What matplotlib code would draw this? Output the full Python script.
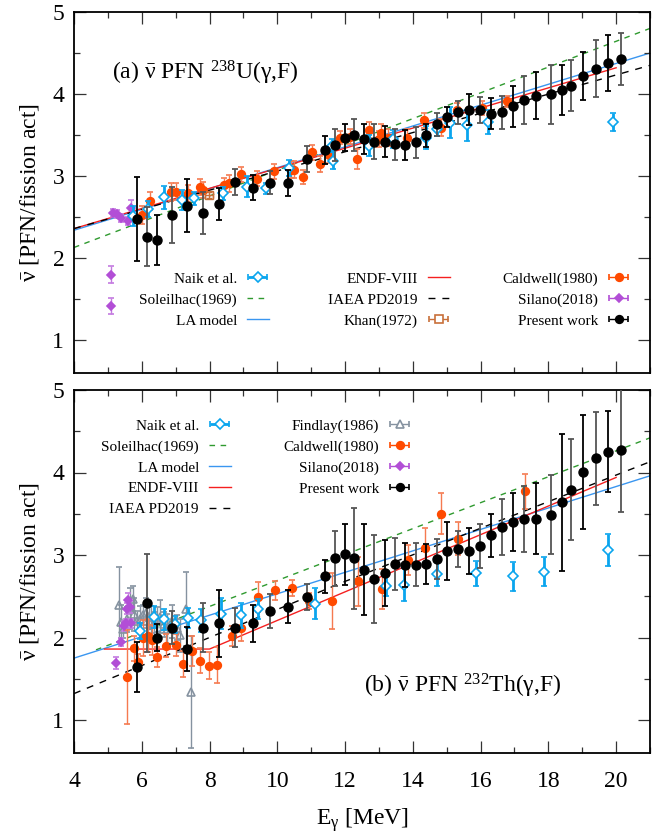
import numpy as np
import matplotlib
matplotlib.use("Agg")
import matplotlib.pyplot as plt
from matplotlib.legend import Legend
from matplotlib.legend_handler import HandlerErrorbar
from matplotlib.container import ErrorbarContainer
from matplotlib.ticker import MultipleLocator

plt.rcParams['font.family'] = ['Liberation Serif', 'DejaVu Serif']
plt.rcParams['mathtext.fontset'] = 'custom'
plt.rcParams['mathtext.rm'] = 'Liberation Serif'
plt.rcParams['mathtext.it'] = 'Liberation Serif:italic'
plt.rcParams['mathtext.bf'] = 'Liberation Serif:bold'

# ---------------- present work (same energy bins for both targets) ----------------
e_pw = [5.87, 6.15, 6.44, 6.88, 7.34, 7.80, 8.27, 8.75, 9.27, 9.79,
        10.31, 10.87, 11.42, 11.70, 11.99, 12.27, 12.57, 12.86, 13.17, 13.46,
        13.77, 14.08, 14.39, 14.71, 15.02, 15.33, 15.65, 15.97, 16.30, 16.62,
        16.96, 17.28, 17.63, 18.07, 18.41, 18.66, 19.03, 19.40, 19.76, 20.14]
nu_u_pw = [2.48, 2.26, 2.22, 2.53, 2.64, 2.55, 2.66, 2.93, 2.86, 2.92,
           2.92, 3.21, 3.32, 3.38, 3.47, 3.50, 3.45, 3.42, 3.42, 3.39,
           3.38, 3.41, 3.50, 3.63, 3.72, 3.78, 3.81, 3.81, 3.76, 3.78,
           3.85, 3.93, 3.98, 4.00, 4.05, 4.10, 4.22, 4.31, 4.38, 4.43]
err_u_pw = [0.51, 0.36, 0.30, 0.34, 0.32, 0.26, 0.20, 0.16, 0.155, 0.14,
            0.16, 0.16, 0.17, 0.19, 0.17, 0.19, 0.18, 0.21, 0.19, 0.19,
            0.18, 0.19, 0.14, 0.14, 0.12, 0.14, 0.19, 0.16, 0.19, 0.20,
            0.25, 0.29, 0.29, 0.36, 0.31, 0.31, 0.29, 0.35, 0.34, 0.32]
nu_th_pw = [1.64, 2.42, 2.00, 2.12, 1.86, 2.12, 2.17, 2.12, 2.17, 2.32,
            2.37, 2.49, 2.74, 2.96, 3.01, 2.96, 2.82, 2.71, 2.78, 2.89,
            2.88, 2.88, 2.89, 2.95, 3.05, 3.07, 3.05, 3.11, 3.24, 3.34,
            3.40, 3.44, 3.44, 3.49, 3.64, 3.79, 4.01, 4.17, 4.25, 4.27]
err_th_pw = [0.30, 0.59, 0.16, 0.20, 0.27, 0.30, 0.41, 0.24, 0.23, 0.21,
             0.20, 0.16, 0.20, 0.33, 0.37, 0.61, 0.55, 0.53, 0.40, 0.32,
             0.27, 0.26, 0.24, 0.24, 0.35, 0.22, 0.28, 0.27, 0.26, 0.34,
             0.35, 0.40, 0.43, 0.48, 0.83, 0.61, 0.69, 0.56, 0.49, 0.75]

# ---------------- Naik et al. ----------------
e_naik_u = [5.75, 6.17, 6.67, 7.18, 7.53, 8.39, 9.10, 9.68, 10.35, 11.62,
            11.64, 12.72, 13.42, 14.38, 14.70, 15.10, 15.60, 16.21, 19.90]
nu_naik_u = [2.51, 2.60, 2.74, 2.71, 2.73, 2.79, 2.87, 2.85, 3.10, 3.37,
             3.19, 3.37, 3.45, 3.47, 3.57, 3.65, 3.62, 3.66, 3.66]
err_naik_u = [0.12, 0.10, 0.14, 0.12, 0.08, 0.08, 0.13, 0.07, 0.10, 0.08,
              0.10, 0.13, 0.11, 0.14, 0.08, 0.19, 0.19, 0.15, 0.11]
e_naik_th = [5.95, 6.35, 6.65, 6.98, 7.36, 7.74, 8.35, 8.93, 9.44, 11.12,
             13.22, 13.75, 14.70, 15.87, 16.95, 17.87, 19.75]
nu_naik_th = [2.08, 2.25, 2.22, 2.16, 2.24, 2.21, 2.29, 2.27, 2.35, 2.41,
              2.63, 2.64, 2.77, 2.78, 2.74, 2.80, 3.06]
err_naik_th = [0.10, 0.13, 0.13, 0.10, 0.12, 0.14, 0.19, 0.15, 0.12, 0.19,
               0.13, 0.20, 0.15, 0.15, 0.18, 0.18, 0.19]

# ---------------- Caldwell(1980) ----------------
e_cald_u = [6.00, 6.25, 6.85, 7.00, 7.35, 7.73, 7.82, 8.44, 8.58, 8.93,
            9.41, 9.91, 10.39, 10.50, 10.77, 11.03, 11.27, 11.53, 11.85, 12.14,
            12.36, 12.72, 12.99, 13.05, 13.27, 13.83, 14.34, 14.83, 15.30, 16.05,
            16.77]
nu_cald_u = [2.53, 2.70, 2.81, 2.81, 2.79, 2.87, 2.83, 2.89, 2.91, 3.02,
             2.97, 3.06, 3.08, 3.08, 2.99, 3.29, 3.15, 3.26, 3.47, 3.48,
             3.21, 3.56, 3.45, 3.53, 3.47, 3.47, 3.68, 3.59, 3.81, 3.83,
             3.91]
err_cald_u = [0.11, 0.11, 0.11, 0.10, 0.10, 0.10, 0.10, 0.09, 0.10, 0.09,
              0.09, 0.09, 0.10, 0.10, 0.09, 0.09, 0.10, 0.10, 0.08, 0.09,
              0.12, 0.10, 0.10, 0.10, 0.10, 0.10, 0.09, 0.10, 0.08, 0.09,
              0.07]
e_cald_th = [5.57, 5.76, 5.90, 6.05, 6.17, 6.29, 6.46, 6.73, 7.00, 7.23,
             7.49, 7.73, 7.97, 8.23, 8.66, 8.92, 9.44, 9.93, 10.43, 10.93,
             11.62, 12.37, 13.10, 13.85, 14.37, 14.82, 15.33, 17.31]
nu_cald_th = [1.52, 1.87, 1.70, 1.99, 2.02, 1.97, 1.76, 1.90, 1.91, 1.68,
              1.84, 1.72, 1.66, 1.67, 2.02, 2.11, 2.49, 2.57, 2.60, 2.44,
              2.44, 2.68, 2.59, 2.94, 3.09, 3.50, 3.20, 3.77]
err_cald_th = [0.57, 0.15, 0.10, 0.22, 0.20, 0.18, 0.12, 0.14, 0.13, 0.16,
               0.18, 0.15, 0.16, 0.22, 0.12, 0.15, 0.18, 0.12, 0.10, 0.10,
               0.34, 0.30, 0.24, 0.18, 0.24, 0.25, 0.20, 0.21]

# ---------------- Silano(2018) ----------------
e_sil_u = [5.09, 5.10, 5.16, 5.28, 5.39, 5.60, 5.68]
nu_sil_u = [1.42, 1.80, 2.55, 2.54, 2.49, 2.45, 2.61]
err_sil_u = [0.10, 0.10, 0.05, 0.05, 0.05, 0.05, 0.10]
e_sil_th = [5.25, 5.40, 5.47, 5.53, 5.57, 5.60, 5.66, 5.67]
nu_sil_th = [1.69, 1.95, 2.14, 2.17, 2.35, 2.46, 2.37, 2.17]
err_sil_th = [0.07, 0.05, 0.06, 0.06, 0.07, 0.08, 0.07, 0.06]

# ---------------- Khan(1972), 238U only ----------------
e_khan = [7.98]
nu_khan = [2.77]
xerr_khan = [0.12]
yerr_khan = [0.04]

# ---------------- Findlay(1986), 232Th only ----------------
e_find = [5.33, 5.38, 5.45, 5.55, 5.65, 5.73, 5.78, 5.85, 5.95, 6.05,
          6.12, 6.20, 6.28, 6.35, 6.45, 6.55, 6.65, 6.75, 6.90, 7.05,
          7.12, 7.32, 7.45]
nu_find = [2.40, 2.19, 2.10, 2.22, 2.35, 2.47, 2.28, 2.20, 2.23, 2.27,
           2.30, 2.25, 2.20, 2.16, 2.22, 2.25, 2.16, 2.10, 2.20, 2.12,
           2.03, 2.35, 1.34]
err_find = [0.45, 0.20, 0.10, 0.15, 0.25, 0.15, 0.20, 0.12, 0.15, 0.12,
            0.18, 0.15, 0.18, 0.15, 0.15, 0.20, 0.15, 0.18, 0.20, 0.15,
            0.20, 0.45, 0.68]

# ---------------- model / evaluation curves ----------------
e_sol_u, nu_sol_u = [4.0, 21.0], [2.13, 4.80]
e_la_u, nu_la_u = [4.0, 21.0], [2.34, 4.50]
e_endf_u, nu_endf_u = [4.0, 20.0], [2.36, 4.32]
e_iaea_u, nu_iaea_u = [4.0, 21.0], [2.36, 4.35]

e_sol_th, nu_sol_th = [4.65, 21.0], [1.85, 4.42]
e_la_th, nu_la_th = [4.0, 21.0], [1.75, 3.96]
e_endf_th, nu_endf_th = [4.9, 8.0, 20.0], [1.86, 1.86, 3.94]
e_iaea_th, nu_iaea_th = [4.0, 12.0, 21.0], [1.32, 2.68, 4.13]

C_NAIK = '#0aa5ee'
C_SOL = '#2f9a2f'
C_LA = '#3a96f0'
C_ENDF = '#f52020'
C_CALD = '#ff4a00'
C_CALD_BAR = '#f57a50'
C_SIL = '#b24ed6'
C_SIL_BAR = '#c47ae0'
C_KHAN = '#c8703a'
C_FIND = '#8592a0'

W, H = 669, 835
fig = plt.figure(figsize=(W / 100, H / 100), dpi=100)
ax1 = fig.add_axes([74 / W, 1 - 373 / H, 576 / W, 361 / H])
ax2 = fig.add_axes([74 / W, 1 - 753 / H, 576 / W, 363 / H])


def draw_models(ax, sol, la, endf, iaea):
    out = {}
    out['sol'], = ax.plot(*sol, color=C_SOL, lw=1.0, ls=(0, (4, 4)), zorder=1)
    out['la'], = ax.plot(*la, color=C_LA, lw=1.0, zorder=1)
    out['endf'], = ax.plot(*endf, color=C_ENDF, lw=1.0, zorder=1)
    out['iaea'], = ax.plot(*iaea, color='black', lw=1.0, ls=(0, (5, 5)), zorder=1)
    return out


def draw_present(ax, nu, err):
    e = np.array(e_pw)
    nu = np.array(nu)
    err = np.array(err)
    # bars alternate black / dark grey
    for sl, col in ((slice(0, None, 2), 'black'), (slice(1, None, 2), '#555555')):
        ax.errorbar(e[sl], nu[sl], yerr=err[sl], fmt='none', ecolor=col,
                    elinewidth=1.3, capsize=2.0, capthick=1.3, zorder=5)
    ax.plot(e, nu, 'o', color='black', ms=6.5, zorder=6)


def draw_points(ax, e, nu, err, marker, color, ecolor, mfc=None, ms=5.5,
                elw=1.0, zorder=3):
    ax.errorbar(e, nu, yerr=err, fmt=marker, color=color, ecolor=ecolor,
                mfc=mfc if mfc is not None else color, mec=color, ms=ms,
                mew=1.2, elinewidth=elw, capsize=2.0, capthick=elw,
                zorder=zorder)


def key_handle(ax, marker, color, ecolor, mfc=None, ms=5.5, elw=1.0):
    # empty container, only used for the legend sample with a horizontal bar
    return ax.errorbar([np.nan], [np.nan], xerr=[1.0], fmt=marker, color=color,
                       ecolor=ecolor, mfc=mfc if mfc is not None else color,
                       mec=color, ms=ms, mew=1.2, elinewidth=elw, capsize=2.5,
                       capthick=elw)


def key_column(ax, handles, labels, x, y):
    leg = Legend(ax, handles, labels, loc='upper right',
                 bbox_to_anchor=(x / W, 1 - y / H), bbox_transform=fig.transFigure,
                 frameon=False, markerfirst=False, handlelength=1.45,
                 handletextpad=0.65, labelspacing=0.47, borderpad=0,
                 borderaxespad=0, fontsize=11,
                 handler_map={ErrorbarContainer: HandlerErrorbar(xerr_size=0.62)})
    ax.add_artist(leg)


def style_axis(ax):
    ax.set_xlim(4, 21)
    ax.set_ylim(0.6, 5.0)
    ax.xaxis.set_major_locator(MultipleLocator(2))
    ax.xaxis.set_minor_locator(MultipleLocator(1))
    ax.yaxis.set_major_locator(MultipleLocator(1))
    ax.yaxis.set_minor_locator(MultipleLocator(0.5))
    ax.tick_params(which='both', direction='in', top=True, right=True,
                   width=0.9, color='#333333', labelsize=17)
    ax.tick_params(which='major', length=8.5, pad=7)
    ax.tick_params(which='minor', length=4.3)
    ax.tick_params(axis='x', which='major', pad=13)
    for sp in ax.spines.values():
        sp.set_linewidth(1.3)
    ax.set_ylabel(r'$\mathrm{\bar{\nu}}$ [PFN/fission act]', fontsize=17, labelpad=8)


# ---------------- (a) 238U ----------------
m1 = draw_models(ax1, (e_sol_u, nu_sol_u), (e_la_u, nu_la_u),
                 (e_endf_u, nu_endf_u), (e_iaea_u, nu_iaea_u))
draw_points(ax1, e_sil_u, nu_sil_u, err_sil_u, 'D', C_SIL, C_SIL_BAR, ms=4.5)
draw_points(ax1, e_cald_u, nu_cald_u, err_cald_u, 'o', C_CALD, C_CALD_BAR, ms=5.5)
ax1.errorbar(e_khan, nu_khan, xerr=xerr_khan, yerr=yerr_khan, fmt='s',
             color=C_KHAN, mfc='none', ms=6, mew=1.0, elinewidth=1.0,
             capsize=2, zorder=3)
draw_points(ax1, e_naik_u, nu_naik_u, err_naik_u, 'D', C_NAIK, C_NAIK,
            mfc='white', ms=5.5, elw=2.0, zorder=4)
draw_present(ax1, nu_u_pw, err_u_pw)
style_axis(ax1)
ax1.tick_params(labelbottom=False)
ax1.text(5.13, 4.26, r'(a) $\mathrm{\bar{\nu}}$ PFN $^{238}$U($\mathrm{\gamma}$,F)',
         fontsize=17, va='center', ha='left')

h_naik = key_handle(ax1, 'D', C_NAIK, C_NAIK, mfc='white', ms=5.5, elw=2.0)
h_cald = key_handle(ax1, 'o', C_CALD, C_CALD)
h_sil = key_handle(ax1, 'D', C_SIL, C_SIL, ms=4.5)
h_khan = key_handle(ax1, 's', C_KHAN, C_KHAN, mfc='white', ms=6)
h_pw = key_handle(ax1, 'o', 'black', 'black')
key_column(ax1, [h_naik, m1['sol'], m1['la']],
           ['Naik et al.', 'Soleilhac(1969)', 'LA model'], 269, 272)
key_column(ax1, [m1['endf'], m1['iaea'], h_khan],
           ['ENDF-VIII', 'IAEA PD2019', 'Khan(1972)'], 450, 272)
key_column(ax1, [h_cald, h_sil, h_pw],
           ['Caldwell(1980)', 'Silano(2018)', 'Present work'], 630, 272)

# ---------------- (b) 232Th ----------------
m2 = draw_models(ax2, (e_sol_th, nu_sol_th), (e_la_th, nu_la_th),
                 (e_endf_th, nu_endf_th), (e_iaea_th, nu_iaea_th))
draw_points(ax2, e_find, nu_find, err_find, '^', C_FIND, C_FIND, mfc='none',
            ms=5.5, elw=1.0, zorder=2)
draw_points(ax2, e_sil_th, nu_sil_th, err_sil_th, 'D', C_SIL, C_SIL_BAR, ms=4.5)
draw_points(ax2, e_cald_th, nu_cald_th, err_cald_th, 'o', C_CALD, C_CALD_BAR, ms=5.5)
draw_points(ax2, e_naik_th, nu_naik_th, err_naik_th, 'D', C_NAIK, C_NAIK,
            mfc='white', ms=5.5, elw=2.0, zorder=4)
draw_present(ax2, nu_th_pw, err_th_pw)
style_axis(ax2)
ax2.set_xlabel(r'E$_{\mathrm{\gamma}}$ [MeV]', fontsize=17, labelpad=10)
ax2.text(12.55, 1.41, r'(b) $\mathrm{\bar{\nu}}$ PFN $^{232}$Th($\mathrm{\gamma}$,F)',
         fontsize=17, va='center', ha='left')

h_find = key_handle(ax2, '^', C_FIND, C_FIND, mfc='white')
key_column(ax2, [h_naik, m2['sol'], m2['la'], m2['endf'], m2['iaea']],
           ['Naik et al.', 'Soleilhac(1969)', 'LA model', 'ENDF-VIII', 'IAEA PD2019'],
           231, 419)
key_column(ax2, [h_find, h_cald, h_sil, h_pw],
           ['Findlay(1986)', 'Caldwell(1980)', 'Silano(2018)', 'Present work'],
           411, 419)

fig.savefig('out.png', dpi=100)
